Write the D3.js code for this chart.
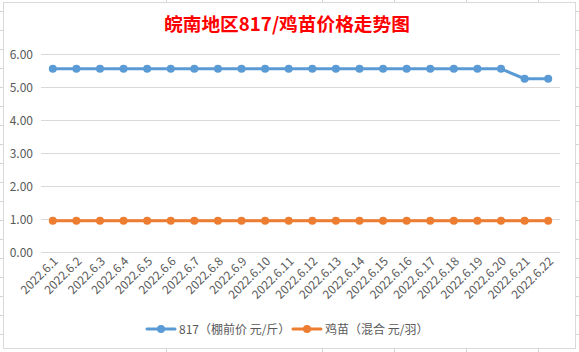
<!DOCTYPE html>
<html>
<head>
<meta charset="utf-8">
<script src="https://cdn.jsdelivr.net/npm/d3@7"></script>
<style>
  body { margin: 0; background: #fff; }
  svg text { font-family: "Noto Sans CJK SC", "Noto Sans", sans-serif; }
</style>
</head>
<body>
<div id="chart"></div>
<script>
// chart data
const dates = ['2022.6.1', '2022.6.2', '2022.6.3', '2022.6.4', '2022.6.5', '2022.6.6',
  '2022.6.7', '2022.6.8', '2022.6.9', '2022.6.10', '2022.6.11', '2022.6.12', '2022.6.13',
  '2022.6.14', '2022.6.15', '2022.6.16', '2022.6.17', '2022.6.18', '2022.6.19',
  '2022.6.20', '2022.6.21', '2022.6.22'];
const price817 = [5.55, 5.55, 5.55, 5.55, 5.55, 5.55, 5.55, 5.55, 5.55, 5.55, 5.55,
  5.55, 5.55, 5.55, 5.55, 5.55, 5.55, 5.55, 5.55, 5.55, 5.25, 5.25];
const chickPrice = [0.95, 0.95, 0.95, 0.95, 0.95, 0.95, 0.95, 0.95, 0.95, 0.95, 0.95,
  0.95, 0.95, 0.95, 0.95, 0.95, 0.95, 0.95, 0.95, 0.95, 0.95, 0.95];
const yTicks = [0, 1, 2, 3, 4, 5, 6];
const seriesNames = ['817（棚前价 元/斤）', '鸡苗（混合 元/羽）'];
const seriesColors = ['#5b9bd5', '#ed7d31'];
const title = '皖南地区817/鸡苗价格走势图';

const width = 579, height = 352;
const svg = d3.select('#chart').append('svg')
  .attr('width', width)
  .attr('height', height);

// spreadsheet cell lines behind the chart object
const sheet = svg.append('g').attr('stroke', '#d4d4d4').attr('stroke-width', 1);
d3.range(11, height, 19).forEach(y => {
  sheet.append('line').attr('x1', 0).attr('x2', width).attr('y1', y + 0.5).attr('y2', y + 0.5);
});
[166, 322, 394, 466, 538].forEach(x => {
  sheet.append('line').attr('x1', x + 0.5).attr('x2', x + 0.5).attr('y1', 0).attr('y2', height);
});

// chart area
svg.append('rect')
  .attr('x', 3.5).attr('y', 2.5)
  .attr('width', 572).attr('height', 346)
  .attr('fill', '#fff')
  .attr('stroke', '#d9d9d9');

// title
svg.append('text')
  .attr('x', 287).attr('y', 31)
  .attr('text-anchor', 'middle')
  .attr('fill', '#ff0000')
  .attr('font-size', '18.7px')
  .attr('font-weight', 'bold')
  .text(title);

// scales
const x = d3.scalePoint()
  .domain(dates)
  .range([41, 560])
  .padding(0.5);
const y = d3.scaleLinear()
  .domain([0, 6])
  .range([252, 54]);

// gridlines + y labels
const grid = svg.append('g');
grid.selectAll('line')
  .data(yTicks)
  .enter().append('line')
  .attr('x1', 41).attr('x2', 560)
  .attr('y1', d => Math.round(y(d)) + 0.5)
  .attr('y2', d => Math.round(y(d)) + 0.5)
  .attr('stroke', '#d9d9d9');
grid.selectAll('text')
  .data(yTicks)
  .enter().append('text')
  .attr('x', 33)
  .attr('y', d => y(d) + 4.5)
  .attr('text-anchor', 'end')
  .attr('fill', '#595959')
  .attr('font-size', '12px')
  .text(d => d3.format('.2f')(d));

// x labels, rotated
svg.append('g').selectAll('text')
  .data(dates)
  .enter().append('text')
  .attr('transform', d => `translate(${x(d) + 6},${262}) rotate(-45)`)
  .attr('text-anchor', 'end')
  .attr('fill', '#595959')
  .attr('font-size', '12px')
  .text(d => d);

// series
const series = [price817, chickPrice];
const line = d3.line()
  .x((d, i) => x(dates[i]))
  .y(d => y(d));

series.forEach((values, k) => {
  const g = svg.append('g');
  g.append('path')
    .datum(values)
    .attr('d', line)
    .attr('fill', 'none')
    .attr('stroke', seriesColors[k])
    .attr('stroke-width', 3)
    .attr('stroke-linejoin', 'round')
    .attr('stroke-linecap', 'round');
  g.selectAll('circle')
    .data(values)
    .enter().append('circle')
    .attr('cx', (d, i) => x(dates[i]))
    .attr('cy', d => y(d))
    .attr('r', 4)
    .attr('fill', seriesColors[k]);
});

// legend
const legendX = [147, 293];
const legend = svg.append('g');
seriesNames.forEach((name, k) => {
  const lg = legend.append('g').attr('transform', `translate(${legendX[k]},329)`);
  lg.append('line')
    .attr('x1', 0).attr('x2', 28)
    .attr('stroke', seriesColors[k])
    .attr('stroke-width', 3)
    .attr('stroke-linecap', 'round');
  lg.append('circle')
    .attr('cx', 14).attr('r', 4)
    .attr('fill', seriesColors[k]);
  lg.append('text')
    .attr('x', 32).attr('y', 4.5)
    .attr('fill', '#595959')
    .attr('font-size', '12px')
    .text(name);
});
</script>
</body>
</html>
